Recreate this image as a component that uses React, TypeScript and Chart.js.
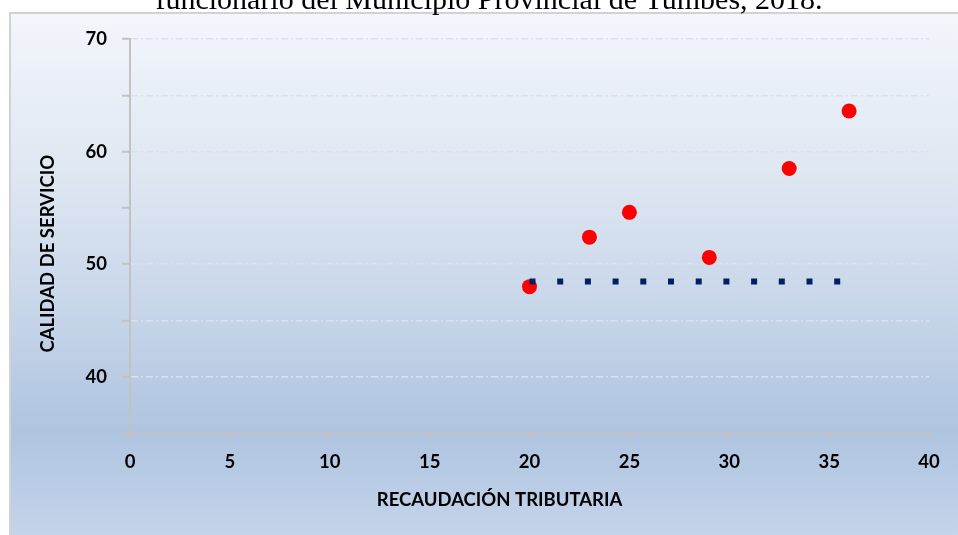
import React, { useEffect, useRef } from 'react';
import { Chart, registerables } from 'chart.js';

Chart.register(...registerables);

const TITLE = 'funcionario del Municipio Provincial de Tumbes, 2018.';
const X_TITLE = 'RECAUDACIÓN TRIBUTARIA';
const Y_TITLE = 'CALIDAD DE SERVICIO';

const recaudacion = [20, 23, 25, 29, 33, 36];
const calidad = [48.0, 52.4, 54.6, 50.6, 58.5, 63.6];

const lineX = [20, 35.6];
const lineY = [48.45, 48.45];

const X_MIN = 0;
const X_MAX = 40;
const X_STEP = 5;
const Y_MIN = 35;
const Y_MAX = 70;
const Y_STEP = 5;
const Y_LABEL_STEP = 10;

const W = 958;
const H = 535;
const FONT = 'Lato, "Open Sans", sans-serif';

const backdrop = {
  id: 'backdrop',
  beforeDraw(chart: any) {
    const ctx = chart.ctx;
    ctx.save();
    const g = ctx.createLinearGradient(0, 13, 0, H);
    g.addColorStop(0, '#f3f6fb');
    g.addColorStop(0.3, '#dfe7f2');
    g.addColorStop(0.55, '#c9d7ea');
    g.addColorStop(0.8, '#afc4e0');
    g.addColorStop(1, '#c4d4ea');
    ctx.fillStyle = g;
    ctx.fillRect(10, 13, W, H);
    ctx.strokeStyle = '#d2d2d2';
    ctx.lineWidth = 2;
    ctx.beginPath();
    ctx.moveTo(10, H + 2);
    ctx.lineTo(10, 13);
    ctx.lineTo(W + 2, 13);
    ctx.stroke();
    ctx.fillStyle = '#000';
    ctx.font = '30px "Liberation Serif", "Times New Roman", serif';
    ctx.textAlign = 'center';
    ctx.textBaseline = 'alphabetic';
    ctx.fillText(TITLE, 489, 9);
    ctx.restore();
  },
  afterDraw(chart: any) {
    const ctx = chart.ctx;
    const area = chart.chartArea;
    ctx.save();
    ctx.fillStyle = '#000';
    ctx.font = `bold 18.5px ${FONT}`;
    ctx.textAlign = 'center';
    ctx.textBaseline = 'middle';
    ctx.fillText(X_TITLE, area.left + (area.right - area.left) * 0.4625, 500);
    ctx.translate(48, area.top + (area.bottom - area.top) * 0.545);
    ctx.rotate(-Math.PI / 2);
    ctx.fillText(Y_TITLE, 0, 0);
    ctx.restore();
  },
};

export default function App() {
  const ref = useRef<HTMLCanvasElement | null>(null);

  useEffect(() => {
    if (!ref.current) return;
    const chart = new Chart(ref.current, {
      type: 'scatter',
      data: {
        datasets: [
          {
            label: 'Tendencia',
            data: lineX.map((x, i) => ({ x, y: lineY[i] })),
            showLine: true,
            borderColor: '#002060',
            backgroundColor: '#002060',
            borderWidth: 6,
            borderDash: [6, 21.7],
            borderCapStyle: 'butt',
            pointRadius: 0,
            pointHoverRadius: 0,
          },
          {
            label: 'Calidad de servicio',
            data: recaudacion.map((x, i) => ({ x, y: calidad[i] })),
            backgroundColor: '#ff0000',
            borderColor: '#ff0000',
            pointRadius: 7.5,
            pointBorderWidth: 0,
          },
        ],
      },
      options: {
        responsive: false,
        animation: false,
        layout: { padding: { left: 0, top: 39, right: 29, bottom: 0 } },
        plugins: {
          legend: { display: false },
          tooltip: { enabled: false },
        },
        scales: {
          x: {
            type: 'linear',
            min: X_MIN,
            max: X_MAX,
            afterFit: (s: any) => {
              s.height = 102;
            },
            ticks: {
              stepSize: X_STEP,
              color: '#000',
              padding: 11,
              font: { family: FONT, size: 18.5, weight: 'bold' },
            },
            grid: {
              drawOnChartArea: false,
              drawTicks: true,
              tickLength: 7,
              tickColor: '#c2c2c2',
              tickWidth: 2,
              color: '#c2c2c2',
            },
            border: { display: true, color: '#c2c2c2', width: 2 },
          },
          y: {
            type: 'linear',
            min: Y_MIN,
            max: Y_MAX,
            afterFit: (s: any) => {
              s.width = 130;
            },
            ticks: {
              stepSize: Y_STEP,
              color: '#000',
              padding: 15,
              font: { family: FONT, size: 18.5, weight: 'bold' },
              callback: (v: any) => (Number(v) % Y_LABEL_STEP === 0 ? String(v) : ''),
            },
            grid: {
              color: '#d8e2ef',
              lineWidth: 1.5,
              drawTicks: true,
              tickLength: 8,
              tickColor: '#c2c2c2',
              tickWidth: 2,
              tickBorderDash: [],
            },
            border: { display: true, color: '#c2c2c2', width: 2, dash: [7, 3, 2, 3] },
          },
        },
      },
      plugins: [backdrop],
    } as any);
    return () => chart.destroy();
  }, []);

  return (
    <div style={{ position: 'absolute', left: 0, top: 0, width: W, height: H }}>
      <canvas ref={ref} width={W} height={H} style={{ display: 'block', width: W, height: H }} />
    </div>
  );
}
